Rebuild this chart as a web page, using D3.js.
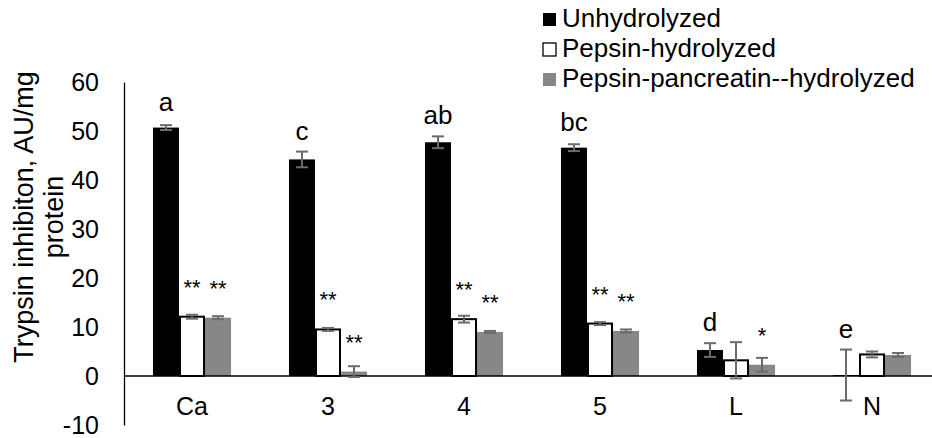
<!DOCTYPE html>
<meta charset="utf-8">
<script src="https://d3js.org/d3.v7.min.js"></script>
<style>
body{margin:0;background:#fff}
text{font-family:"Liberation Sans",Arial,sans-serif;fill:#000}
</style>
<body>
<div id="chart"></div>
<script>
var categories = ["Ca","3","4","5","L","N"];
var seriesNames = ["Unhydrolyzed","Pepsin-hydrolyzed","Pepsin-pancreatin--hydrolyzed"];
var unhydrolyzed = [50.7, 44.2, 47.7, 46.6, 5.3, 0.2];
var unhydrolyzedErr = [0.5, 1.6, 1.2, 0.7, 1.4, 5.2];
var pepsin = [12.1, 9.5, 11.6, 10.7, 3.2, 4.4];
var pepsinErr = [0.4, 0.3, 0.7, 0.3, 3.7, 0.6];
var pancreatin = [11.9, 0.9, 9.0, 9.2, 2.3, 4.3];
var pancreatinErr = [0.3, 1.1, 0.2, 0.3, 1.4, 0.4];
var letterLabels = ["a","c","ab","bc","d","e"];
var pepsinLabels = ["**","**","**","**","",""];
var pancreatinLabels = ["**","**","**","**","*",""];
var yTicks = [-10,0,10,20,30,40,50,60];

var W = 932, H = 438;
var fills = ["#000000","#ffffff","#878787"];
var values = [unhydrolyzed, pepsin, pancreatin];
var errs = [unhydrolyzedErr, pepsinErr, pancreatinErr];
var labels = [letterLabels, pepsinLabels, pancreatinLabels];

var svg = d3.select("#chart").append("svg").attr("width",W).attr("height",H);

var x0 = d3.scaleBand().domain(categories).range([124,940]).paddingInner(0.426).paddingOuter(0.213);
var x1 = d3.scaleBand().domain([0,1,2]).range([0,x0.bandwidth()]);
var y = d3.scaleLinear().domain([-10,60]).range([425,82]);

var cells = [];
categories.forEach(function(c,i){
  for(var s=0;s<3;s++) cells.push({c:c,s:s,v:values[s][i],e:errs[s][i],l:labels[s][i]});
});

// bars
var bars = svg.append("g");
bars.selectAll("rect").data(cells).join("rect")
  .attr("x",function(d){return x0(d.c)+x1(d.s)+(d.s==1?1:0);})
  .attr("width",function(d){return x1.bandwidth()-(d.s==1?2:0);})
  .attr("y",function(d){return y(Math.max(d.v,0));})
  .attr("height",function(d){return Math.abs(y(d.v)-y(0));})
  .attr("fill",function(d){return fills[d.s];})
  .attr("stroke",function(d){return d.s==1?"#000":"none";})
  .attr("stroke-width",2);

// axes
var yAxis = svg.append("g").attr("transform","translate(124,0)")
  .call(d3.axisLeft(y).tickValues(yTicks).tickFormat(function(d){return String(d);})
    .tickSize(0).tickSizeOuter(0).tickPadding(25));
yAxis.select(".domain").attr("stroke","#000").attr("stroke-width",1.3);
yAxis.selectAll("text").attr("font-size",25).attr("font-family","Liberation Sans, Arial");

svg.append("line").attr("x1",124).attr("x2",W).attr("y1",y(0)).attr("y2",y(0))
  .attr("stroke","#000").attr("stroke-width",1.3);

var xAxis = svg.append("g").attr("transform","translate(0,"+y(0)+")")
  .call(d3.axisBottom(x0).tickSize(0).tickPadding(0));
xAxis.select(".domain").remove();
xAxis.selectAll("text").attr("font-size",25).attr("font-family","Liberation Sans, Arial")
  .attr("dy",null).attr("y",39);

// error bars
var eb = svg.append("g").attr("stroke","#6b6b6b").attr("stroke-width",2);
cells.forEach(function(d){
  var cx = x0(d.c)+x1(d.s)+x1.bandwidth()/2;
  var t = y(d.v+d.e), b = y(d.v-d.e);
  eb.append("line").attr("x1",cx).attr("x2",cx).attr("y1",t).attr("y2",b);
  eb.append("line").attr("x1",cx-6).attr("x2",cx+6).attr("y1",t).attr("y2",t);
  eb.append("line").attr("x1",cx-6).attr("x2",cx+6).attr("y1",b).attr("y2",b);
});

// data labels
svg.append("g").selectAll("text").data(cells.filter(function(d){return d.l;})).join("text")
  .attr("x",function(d){return x0(d.c)+x1(d.s)+x1.bandwidth()/2;})
  .attr("y",function(d){
    if(d.s==0) return Math.min(y(d.v)-17, y(d.v+d.e)-12);
    return y(d.v)-22;
  })
  .attr("text-anchor","middle")
  .attr("font-size",function(d){return d.s==0?26:22;})
  .text(function(d){return d.l;});

// y title
var title = svg.append("text").attr("transform","translate(0,217) rotate(-90)")
  .attr("text-anchor","middle").attr("font-size",27);
title.append("tspan").attr("x",0).attr("y",33).text("Trypsin inhibiton, AU/mg");
title.append("tspan").attr("x",0).attr("y",63).text("protein");

// legend
var lg = svg.append("g").selectAll("g").data(seriesNames).join("g")
  .attr("transform",function(d,i){return "translate(543,"+(27+i*30)+")";});
lg.append("rect").attr("x",0).attr("y",-14).attr("width",13).attr("height",13)
  .attr("fill",function(d,i){return fills[i];})
  .attr("stroke",function(d,i){return i==1?"#000":"none";}).attr("stroke-width",1.3);
lg.append("text").attr("x",19).attr("y",0).attr("font-size",26).text(function(d){return d;});
</script>
</body>
